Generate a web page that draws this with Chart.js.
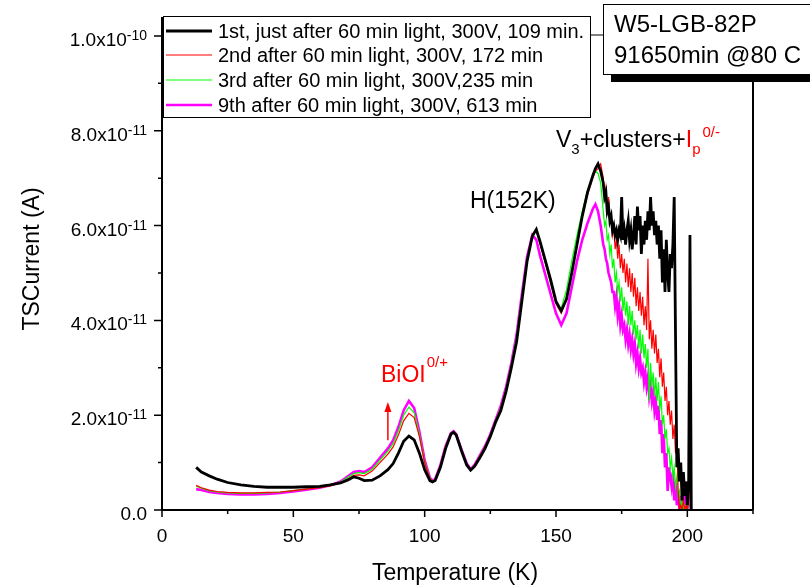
<!DOCTYPE html>
<html>
<head>
<meta charset="utf-8">
<script src="https://cdn.jsdelivr.net/npm/chart.js@4.4.1/dist/chart.umd.min.js"></script>
<style>
  html, body { margin: 0; padding: 0; background: #fff; }
</style>
</head>
<body>
<canvas id="tsc" width="810" height="587"></canvas>
<script>
// TSC spectra of W5-LGB-82P after light exposure (current in units of 1e-11 A)

const temps = [
  13, 15, 18, 21, 25, 30, 35, 40, 45, 50,
  55, 60, 64, 68, 71, 73, 75, 77, 80, 83,
  86, 88, 90, 92, 94, 96, 98, 100, 102, 103,
  104, 106, 108, 110, 111, 112, 114, 116, 117.5, 119,
  121, 123, 125, 127, 129, 131, 133, 135, 137, 139,
  141, 142.5, 144, 146, 148, 150, 152, 154, 156, 158,
  160, 162, 164, 165, 166, 167,
  168, 168.5, 169, 169.5, 170, 170.5, 171, 171.5, 172, 172.5,
  173, 173.5, 174, 174.5, 175, 175.5, 176, 176.5, 177, 177.5,
  178, 178.5, 179, 179.5, 180, 180.5, 181, 181.5, 182, 182.5,
  183, 183.5, 184, 184.5, 185, 185.5, 186, 186.5, 187, 187.5,
  188, 188.5, 189, 189.5, 190, 190.5, 191, 191.5, 192, 192.5,
  193, 193.5, 194, 194.5, 195, 195.5, 196, 196.5, 197, 197.5,
  198, 198.5, 199, 199.5, 200, 200.5, 201, 201.5
];

const run1st = [
  0.90, 0.80, 0.72, 0.65, 0.58, 0.53, 0.50, 0.48, 0.48, 0.48,
  0.49, 0.50, 0.53, 0.57, 0.64, 0.70, 0.67, 0.62, 0.63, 0.72,
  0.85, 0.98, 1.20, 1.45, 1.56, 1.48, 1.20, 0.85, 0.62, 0.59,
  0.62, 0.90, 1.30, 1.60, 1.64, 1.58, 1.25, 0.95, 0.84, 0.92,
  1.10, 1.30, 1.55, 1.85, 2.10, 2.50, 3.00, 3.55, 4.40, 5.25,
  5.78, 5.92, 5.65, 5.25, 4.85, 4.40, 4.20, 4.45, 5.00, 5.60,
  6.20, 6.70, 7.05, 7.20, 7.30, 7.15,
  6.9, 6.6, 6.7, 6.3, 6.4, 6.1, 6.2, 5.9, 6.0, 5.8,
  5.9, 5.7, 5.9, 5.8, 6.6, 5.7, 5.9, 5.6, 5.9, 6.1,
  5.7, 5.9, 5.5, 5.8, 6.2, 5.6, 6.4, 5.9, 6.2, 5.4,
  6.0, 5.6, 6.1, 5.7, 6.3, 5.9, 6.6, 6.0, 6.3, 5.8,
  6.1, 5.6, 6.0, 5.3, 5.9, 4.8, 5.5, 4.6, 5.7, 5.0,
  4.6, 5.4, 5.1, 5.6, 6.6, 3.7, 0.9, 1.3, 0.6, 1.0,
  0.2, 0.8, 0.3, 0.6, 0.1, 0.5, 5.8, 0.0
];

const run2nd = [
  0.52, 0.47, 0.42, 0.39, 0.37, 0.36, 0.36, 0.37, 0.38, 0.41,
  0.44, 0.47, 0.51, 0.57, 0.66, 0.73, 0.74, 0.72, 0.82, 1.00,
  1.18, 1.33, 1.58, 1.88, 2.04, 1.95, 1.55, 1.00, 0.66, 0.61,
  0.64, 0.93, 1.33, 1.61, 1.65, 1.59, 1.27, 0.97, 0.85, 0.94,
  1.13, 1.33, 1.58, 1.88, 2.15, 2.55, 3.05, 3.60, 4.45, 5.25,
  5.78, 5.90, 5.60, 5.20, 4.80, 4.35, 4.15, 4.45, 5.00, 5.60,
  6.20, 6.65, 7.00, 7.15, 7.20, 7.30,
  7.0, 6.6, 6.8, 6.4, 6.6, 6.1, 6.2, 5.8, 6.0, 5.5,
  5.7, 5.3, 5.6, 5.1, 5.4, 5.0, 5.3, 4.8, 5.2, 4.7,
  5.1, 4.6, 5.0, 4.5, 4.9, 4.3, 4.7, 4.2, 4.6, 4.1,
  4.5, 3.9, 4.3, 3.8, 5.3, 3.6, 4.0, 3.4, 3.8, 3.3,
  3.7, 3.1, 3.4, 2.8, 3.2, 2.6, 2.9, 2.3, 2.6, 2.0,
  2.3, 1.8, 2.1, 1.5, 1.8, 1.2, 1.5, 0.4, 0.0, 0.1,
  0.0, 0.2, 0.0, 0.1, 0.0, 0.2, 3.5, 0.0
];

const run3rd = [
  0.50, 0.46, 0.41, 0.38, 0.36, 0.35, 0.35, 0.36, 0.38, 0.41,
  0.44, 0.48, 0.52, 0.59, 0.70, 0.77, 0.79, 0.77, 0.86, 1.05,
  1.24, 1.40, 1.67, 2.00, 2.17, 2.05, 1.60, 1.02, 0.67, 0.61,
  0.64, 0.94, 1.34, 1.62, 1.65, 1.59, 1.27, 0.97, 0.85, 0.94,
  1.14, 1.34, 1.59, 1.89, 2.17, 2.57, 3.07, 3.67, 4.50, 5.30,
  5.80, 5.88, 5.60, 5.20, 4.75, 4.35, 4.25, 4.65, 5.25, 5.80,
  6.30, 6.75, 7.05, 7.15, 7.10, 6.90,
  6.3, 6.0, 6.1, 5.7, 5.8, 5.4, 5.6, 5.1, 5.3, 4.8,
  5.0, 4.6, 4.8, 4.4, 4.7, 4.2, 4.5, 4.1, 4.4, 3.9,
  4.3, 3.9, 4.2, 3.7, 4.0, 3.6, 3.9, 3.4, 3.8, 3.3,
  3.7, 3.2, 3.5, 3.0, 3.4, 2.3, 3.1, 2.6, 2.9, 2.4,
  2.8, 2.3, 2.7, 2.1, 2.4, 1.8, 2.0, 1.5, 1.7, 1.2,
  1.3, 0.9, 1.1, 0.7, 0.9, 0.5, 0.7, 0.3, 0.4, 0.0,
  0.2, 0.0, 0.1, 0.0, 0.2, 0.1, 2.3, 0.0
];

const run9th = [
  0.44, 0.42, 0.38, 0.36, 0.34, 0.33, 0.33, 0.34, 0.36, 0.39,
  0.43, 0.47, 0.52, 0.60, 0.72, 0.80, 0.82, 0.80, 0.90, 1.10,
  1.30, 1.47, 1.75, 2.10, 2.30, 2.15, 1.65, 1.05, 0.68, 0.62,
  0.65, 0.95, 1.35, 1.62, 1.66, 1.60, 1.28, 0.98, 0.86, 0.95,
  1.15, 1.35, 1.60, 1.90, 2.20, 2.60, 3.10, 3.70, 4.55, 5.35,
  5.80, 5.70, 5.35, 4.95, 4.55, 4.15, 3.90, 4.15, 4.70, 5.25,
  5.70, 6.05, 6.35, 6.45, 6.30, 6.00,
  5.6, 5.5, 5.3, 5.2, 5.0, 4.9, 4.8, 4.6, 4.6, 4.3,
  4.5, 4.1, 4.3, 3.9, 4.1, 3.8, 3.9, 3.6, 3.8, 3.5,
  3.7, 3.4, 3.6, 3.3, 3.5, 3.1, 3.3, 3.0, 3.2, 2.9,
  3.0, 2.7, 2.9, 2.6, 2.8, 2.4, 2.6, 2.3, 2.5, 2.1,
  2.3, 1.9, 2.2, 1.6, 1.9, 1.2, 1.6, 0.9, 1.2, 0.4,
  0.9, 0.7, 0.5, 0.8, 0.2, 0.6, 0.1, 0.4, 0.0, 0.3,
  0.0, 0.5, 0.1, 0.6, 0.0, 0.4, 0.1, 0.0
];

const seriesLabels = [
  '1st, just after 60 min light, 300V, 109 min.',
  '2nd after 60 min light, 300V, 172 min',
  '3rd after 60 min light, 300V,235 min',
  '9th after 60 min light, 300V, 613 min'
];
const seriesColors = ['#000000', '#ff0000', '#00ff00', '#ff00ff'];
const seriesWidths = [2.8, 1.2, 1.2, 2.6];

const xMajorTicks = [0, 50, 100, 150, 200];
const xMinorTicks = [25, 75, 125, 175, 225];
const yMajorTicks = [0, 2, 4, 6, 8, 10];
const yMinorTicks = [1, 3, 5, 7, 9];

const FONT = "Arial, 'Liberation Sans', sans-serif";

function toPoints(vals) {
  return temps.map((t, i) => ({ x: t, y: vals[i] }));
}

// superscript-style tick label, e.g. 2.0x10^-11
function yLabelParts(v) {
  if (v === 0) return ['0.0', ''];
  if (v >= 10) return [(v / 10).toFixed(1) + 'x10', '-10'];
  return [v.toFixed(1) + 'x10', '-11'];
}

const decor = {
  id: 'decor',
  afterDraw(chart) {
    const { ctx, chartArea: a, scales: { x, y } } = chart;
    ctx.save();
    ctx.strokeStyle = '#000';
    ctx.fillStyle = '#000';

    // axis lines
    ctx.lineWidth = 2;
    ctx.beginPath();
    ctx.moveTo(a.left, a.top);
    ctx.lineTo(a.left, a.bottom);
    ctx.lineTo(a.right, a.bottom);
    ctx.moveTo(a.right, 82);
    ctx.lineTo(a.right, a.bottom);
    ctx.stroke();

    // ticks
    ctx.lineWidth = 1.5;
    ctx.beginPath();
    xMajorTicks.forEach(t => { const px = x.getPixelForValue(t); ctx.moveTo(px, a.bottom); ctx.lineTo(px, a.bottom + 7); });
    xMinorTicks.forEach(t => { const px = x.getPixelForValue(t); ctx.moveTo(px, a.bottom); ctx.lineTo(px, a.bottom + 4); });
    yMajorTicks.forEach(v => { const py = y.getPixelForValue(v); ctx.moveTo(a.left, py); ctx.lineTo(a.left - 8, py); });
    yMinorTicks.forEach(v => { const py = y.getPixelForValue(v); ctx.moveTo(a.left, py); ctx.lineTo(a.left - 4, py); });
    ctx.stroke();

    // x tick labels
    ctx.font = '19px ' + FONT;
    ctx.textAlign = 'center';
    ctx.textBaseline = 'alphabetic';
    xMajorTicks.forEach(t => ctx.fillText(String(t), x.getPixelForValue(t), 542));

    // y tick labels
    yMajorTicks.forEach(v => {
      const py = y.getPixelForValue(v);
      const [main, sup] = yLabelParts(v);
      ctx.font = '19px ' + FONT;
      const wm = ctx.measureText(main).width;
      ctx.font = '14px ' + FONT;
      const ws = ctx.measureText(sup).width;
      const right = 147;
      ctx.textAlign = 'left';
      ctx.font = '19px ' + FONT;
      ctx.fillText(main, right - ws - wm, py + 10);
      ctx.font = '14px ' + FONT;
      ctx.fillText(sup, right - ws, py + 4);
    });

    // axis titles
    ctx.font = '23px ' + FONT;
    ctx.textAlign = 'center';
    ctx.fillText('Temperature (K)', 455, 580);
    ctx.save();
    ctx.translate(39, 259);
    ctx.rotate(-Math.PI / 2);
    ctx.fillText('TSCurrent (A)', 0, 0);
    ctx.restore();

    // legend box
    ctx.lineWidth = 1;
    ctx.fillStyle = '#fff';
    ctx.fillRect(163, 16, 428, 101);
    ctx.strokeRect(163.5, 16.5, 427, 101);
    ctx.beginPath();
    ctx.moveTo(591, 35);
    ctx.lineTo(603, 35);
    ctx.stroke();
    const rows = [31, 55, 80, 105];
    ctx.font = '20px ' + FONT;
    ctx.textAlign = 'left';
    seriesLabels.forEach((lbl, i) => {
      ctx.strokeStyle = seriesColors[i];
      ctx.lineWidth = seriesWidths[i];
      ctx.beginPath();
      ctx.moveTo(166, rows[i]);
      ctx.lineTo(212, rows[i]);
      ctx.stroke();
      ctx.fillStyle = '#000';
      ctx.fillText(lbl, 218, rows[i] + 7);
    });

    // sample box with shadow
    ctx.fillStyle = '#000';
    ctx.fillRect(611, 74, 210, 8);
    ctx.fillStyle = '#fff';
    ctx.fillRect(603, 4, 220, 70);
    ctx.strokeStyle = '#000';
    ctx.lineWidth = 1;
    ctx.strokeRect(603.5, 4.5, 220, 70);
    ctx.fillStyle = '#000';
    ctx.font = '24px ' + FONT;
    ctx.fillText('W5-LGB-82P', 614, 32);
    ctx.fillText('91650min @80 C', 614, 63);

    // peak annotations
    ctx.font = '23px ' + FONT;
    ctx.fillText('H(152K)', 470, 208);

    let cx = 556;
    ctx.fillText('V', cx, 147); cx += ctx.measureText('V').width;
    ctx.font = '15px ' + FONT;
    ctx.fillText('3', cx, 154); cx += ctx.measureText('3').width;
    ctx.font = '23px ' + FONT;
    ctx.fillText('+clusters+', cx, 147); cx += ctx.measureText('+clusters+').width;
    ctx.fillStyle = '#ff0000';
    ctx.fillText('I', cx, 147); cx += ctx.measureText('I').width;
    ctx.font = '15px ' + FONT;
    ctx.fillText('p', cx, 154);
    ctx.fillText('0/-', cx + ctx.measureText('p').width + 2, 137);

    ctx.font = '23px ' + FONT;
    ctx.fillText('BiOI', 381, 382);
    const wb = ctx.measureText('BiOI').width;
    ctx.font = '15px ' + FONT;
    ctx.fillText('0/+', 381 + wb + 1, 367);

    // arrow toward the BiOI peak
    const ax = x.getPixelForValue(86);
    const ay0 = y.getPixelForValue(1.47);
    const ay1 = y.getPixelForValue(2.28);
    ctx.strokeStyle = '#ff0000';
    ctx.lineWidth = 1.5;
    ctx.beginPath();
    ctx.moveTo(ax, ay0);
    ctx.lineTo(ax, ay1 + 8);
    ctx.stroke();
    ctx.beginPath();
    ctx.moveTo(ax, ay1);
    ctx.lineTo(ax - 3.5, ay1 + 10);
    ctx.lineTo(ax + 3.5, ay1 + 10);
    ctx.closePath();
    ctx.fill();

    ctx.restore();
  }
};

const datasets = [run1st, run2nd, run3rd, run9th].map((vals, i) => ({
  label: seriesLabels[i],
  data: toPoints(vals),
  borderColor: seriesColors[i],
  borderWidth: seriesWidths[i],
  pointRadius: 0,
  tension: 0,
  fill: false
}));

new Chart(document.getElementById('tsc'), {
  type: 'line',
  data: { datasets },
  options: {
    responsive: false,
    animation: false,
    layout: { padding: { left: 0, right: 57, top: 17, bottom: 0 } },
    plugins: { legend: { display: false }, tooltip: { enabled: false } },
    scales: {
      x: {
        type: 'linear',
        min: 0,
        max: 225,
        grid: { display: false },
        border: { display: false },
        ticks: { display: false },
        afterFit: s => { s.height = 77; }
      },
      y: {
        type: 'linear',
        min: 0,
        max: 10.4,
        grid: { display: false },
        border: { display: false },
        ticks: { display: false },
        afterFit: s => { s.width = 162; }
      }
    }
  },
  plugins: [decor]
});
</script>
</body>
</html>
